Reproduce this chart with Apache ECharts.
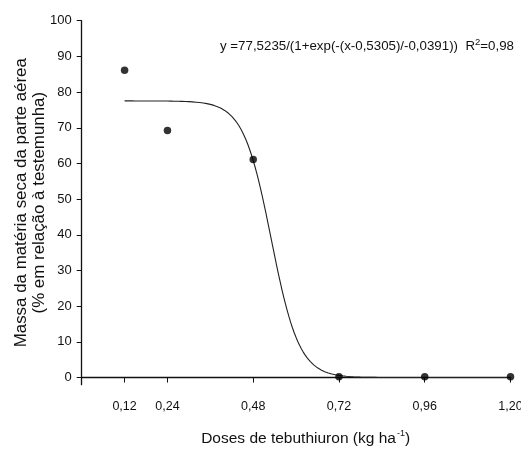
<!DOCTYPE html>
<html>
<head>
<meta charset="utf-8">
<script src="https://cdn.jsdelivr.net/npm/echarts@6/dist/echarts.min.js"></script>
<style>
  html, body { margin: 0; padding: 0; background: #fff; }
  #chart { width: 521px; height: 451px; }
</style>
</head>
<body>
<div id="chart"></div>
<script>
// Observed doses (kg/ha) and dry mass (% of control)
var doses = [0.12, 0.24, 0.48, 0.72, 0.96, 1.20];
var dryMass = [86.1, 69.2, 61.1, 0.2, 0.2, 0.2];

// Sigmoidal fit: y = a / (1 + exp(-(x - x0) / b))
var fitA = 77.5235;
var fitX0 = 0.5305;
var fitB = -0.0391;
var fitR2 = 0.98;

// Axis ticks
var xTicks = [0.12, 0.24, 0.48, 0.72, 0.96, 1.20];
var yTicks = [0, 10, 20, 30, 40, 50, 60, 70, 80, 90, 100];

function fit(x) {
  return fitA / (1 + Math.exp(-(x - fitX0) / fitB));
}

var curve = [];
for (var i = 0; i <= 216; i++) {
  var x = 0.12 + i * 0.005;
  curve.push([x, fit(x)]);
}

function comma(v, digits) {
  return v.toFixed(digits).replace('.', ',');
}

var font = '"Liberation Sans", Arial, sans-serif';
var ink = '#111';

var chart = echarts.init(document.getElementById('chart'), null, { renderer: 'canvas' });
chart.setOption({
  backgroundColor: '#fff',
  animation: false,
  grid: { left: 81.7, right: 10.5, top: 20.7, bottom: 66.3, containLabel: false, outerBoundsMode: 'none' },
  xAxis: {
    type: 'value',
    min: 0,
    max: 1.2,
    name: '{t|Doses de tebuthiuron (kg ha}{s|-1}{t|)}',
    nameLocation: 'middle',
    nameGap: 44,
    nameMoveOverlap: false,
    nameTextStyle: {
      padding: [0, 0, 0, 19],
      rich: {
        t: { fontFamily: font, fontSize: 15.5, color: ink, verticalAlign: 'bottom', lineHeight: 18 },
        s: { fontFamily: font, fontSize: 9, color: ink, verticalAlign: 'top', lineHeight: 18, padding: [0, 0, 9, 1] }
      }
    },
    axisLine: { show: true, lineStyle: { color: ink, width: 1.3 } },
    axisTick: { show: true, length: 5, lineStyle: { color: ink }, customValues: xTicks },
    axisLabel: {
      customValues: xTicks,
      margin: 15,
      fontFamily: font, fontSize: 12.5, color: ink,
      formatter: function (v) { return comma(v, 2); }
    },
    splitLine: { show: false }
  },
  yAxis: {
    type: 'value',
    min: -2,
    max: 100,
    name: 'Massa da matéria seca da parte aérea\n(% em relação à testemunha)',
    nameLocation: 'middle',
    nameGap: 33,
    nameMoveOverlap: false,
    nameTextStyle: { fontFamily: font, fontSize: 16.9, color: ink, lineHeight: 18 },
    axisLine: { show: true, lineStyle: { color: ink, width: 1.3 } },
    axisTick: { show: true, length: 5, lineStyle: { color: ink }, customValues: yTicks },
    axisLabel: {
      customValues: yTicks,
      margin: 10,
      fontFamily: font, fontSize: 13, color: ink
    },
    splitLine: { show: false }
  },
  graphic: [{
    type: 'text',
    left: 220,
    top: 37,
    style: {
      text: '{t|y =' + comma(fitA, 4) + '/(1+exp(-(x-' + comma(fitX0, 4) + ')/' + comma(fitB, 4) + '))  R}{s|2}{t|=' + comma(fitR2, 2) + '}',
      rich: {
        t: { fontFamily: font, fontSize: 13.3, fill: ink, verticalAlign: 'bottom', lineHeight: 16 },
        s: { fontFamily: font, fontSize: 9.5, fill: ink, verticalAlign: 'top', lineHeight: 16, padding: [0, 0, 7, 0] }
      }
    }
  }],
  series: [
    {
      type: 'line',
      data: curve,
      showSymbol: false,
      smooth: false,
      lineStyle: { color: '#222', width: 1.1 },
      z: 2
    },
    {
      type: 'scatter',
      data: doses.map(function (d, i) { return [d, dryMass[i]]; }),
      symbol: 'circle',
      symbolSize: 7.5,
      itemStyle: { color: '#000' },
      z: 3
    }
  ]
});
</script>
</body>
</html>
